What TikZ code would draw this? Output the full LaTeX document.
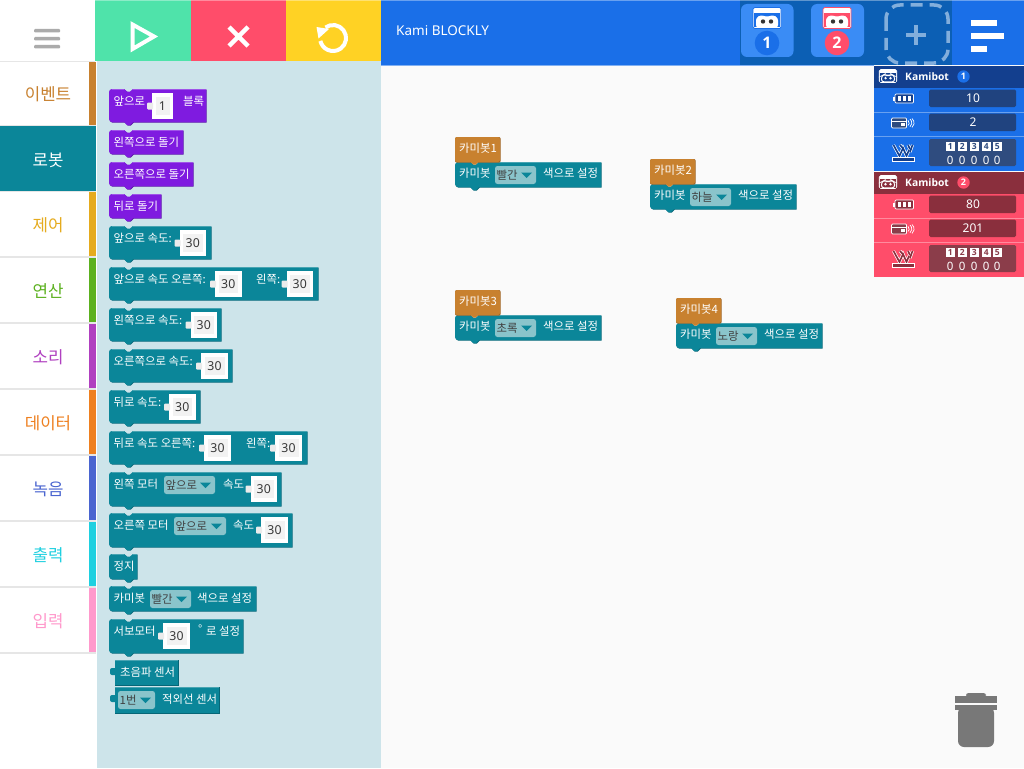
\documentclass[tikz,border=0pt]{standalone}
\usepackage{fontspec}
\setmainfont{Noto Sans CJK KR}
\newfontfamily\latf{Noto Sans}
\newfontfamily\latb{Open Sans}
\usetikzlibrary{calc}
\definecolor{teal1}{HTML}{0B8699}\definecolor{teal1dark}{HTML}{066677}
\definecolor{purp1}{HTML}{7F1BE0}\definecolor{purp1dark}{HTML}{5810A6}
\definecolor{oran1}{HTML}{C8812F}\definecolor{oran1dark}{HTML}{9A6020}
\definecolor{panelbg}{HTML}{CDE4EA}\definecolor{wsbg}{HTML}{FAFAFA}
\definecolor{hblue}{HTML}{1A6FE8}\definecolor{hdeep}{HTML}{0C5FB4}
\definecolor{btnblue}{HTML}{3A8CF5}\definecolor{hred}{HTML}{FF4D6A}
\definecolor{hgreen}{HTML}{4FE3AA}\definecolor{hyellow}{HTML}{FFD224}
\definecolor{dkblue}{HTML}{133F8E}\definecolor{dkred}{HTML}{8A2F3D}
\definecolor{boxblue}{HTML}{20437F}\definecolor{boxblueb}{HTML}{2F4C7F}
\definecolor{boxredb}{HTML}{8B3D4A}\definecolor{ddfill}{HTML}{8AC4CB}
\definecolor{sep}{HTML}{E6E6E6}\definecolor{dashc}{HTML}{82AEDC}
% block with notch and bump: colour, x, y, right, bottom
\newcommand\blk[5]{%
 \foreach \dd/\cc in {0.7/#1dark,0/#1}{%
 \fill[\cc,shift={(\dd,\dd)}] (#2+3,#3)--(#2+15,#3)--(#2+18,#3+2.5)--(#2+21,#3+2.5)--(#2+24,#3)--(#4,#3)--(#4,#5-1)--(#2+24,#5-1)--(#2+21,#5+2)--(#2+18,#5+2)--(#2+15,#5-1)--(#2+3,#5-1) arc (90:180:3) --(#2,#3+3) arc (180:270:3) --cycle;}%
 \draw[#1!75!white,line width=.6pt] (#2+3,#3+.3)--(#2+15,#3+.3) (#2+24,#3+.3)--(#4,#3+.3);
}
% output block: x, y, right, bottom
\newcommand\oblk[4]{%
 \fill[teal1dark] (#1,#2) rectangle (#3+.7,#4+.7);
 \fill[teal1] (#1,#2) rectangle (#3,#4);
 \fill[teal1,rounded corners=2pt] (#1-5,#2+8) rectangle (#1+2,#2+15);
 \draw[teal1!75!white,line width=.6pt] (#1,#2+.3)--(#3,#2+.3);
}
\newcommand\btxt[3]{\node[anchor=west,inner sep=0pt,text=white,font=\fontsize{11.4}{12}\selectfont] at (#1,#2) {#3};}
\newcommand\inp[5]{%
 \fill[white] (#1,#3) rectangle (#2,#4);
 \fill[white!92!black,rounded corners=1pt] (#1-5,{(#3+#4)/2-3.5}) rectangle (#1+1,{(#3+#4)/2+3.5});
 \fill[black!5] (#1+3.5,#3+4) rectangle (#2-3.5,#4-4);
 \node[inner sep=0pt,text=black!78,font=\latf\fontsize{12.3}{13}\selectfont] at ({(#1+#2)/2},{(#3+#4)/2+.5}) {#5};}
\newcommand\dropd[5]{%
 \fill[ddfill,rounded corners=2.5pt] (#1,#3) rectangle (#2,#4);
 \fill[teal1] (#2-15,{(#3+#4)/2-2.5}) -- (#2-4,{(#3+#4)/2-2.5}) -- (#2-9.5,{(#3+#4)/2+3}) -- cycle;
 \node[anchor=west,inner sep=0pt,text=black!75,font=\fontsize{11.4}{12}\selectfont] at (#1+1.5,{(#3+#4)/2}) {#5};}
\newcommand\hatblk[3]{%
 \fill[oran1dark,rounded corners=2pt] (#1,#2) rectangle (#1+45.7,#2+25.7);
 \fill[oran1,rounded corners=2pt] (#1,#2+25)--(#1,#2)--(#1+45,#2)--(#1+45,#2+25)--cycle;
 \fill[oran1] (#1+15,#2+24)--(#1+24,#2+24)--(#1+21,#2+27.5)--(#1+18,#2+27.5)--cycle;
 \btxt{#1+4}{#2+11}{#3}}
\newcommand\setblk[3]{% x,y,dropdown text
 \blk{teal1}{#1}{#2}{#1+146}{#2+26}
 \btxt{#1+4}{#2+11}{카미봇}
 \dropd{#1+40}{#1+81}{#2+4}{#2+22}{#3}
 \btxt{#1+88}{#2+11}{색으로 설정}}
% cx cy scale edge-colour body-colour blob-colour (eyes #7)
\newcommand\robot[7]{%
 \begin{scope}[shift={(#1,#2)},scale=#3]
 \fill[white,draw=#4,line width=.7pt,rounded corners=1.5pt] (-14,-10.5) rectangle (14,10.5);
 \fill[#5] (-13,-4.5) rectangle (13,9.5);
 \fill[#6,draw=white,line width=1pt,rounded corners=2.5pt] (-10.5,9.5)--(-10.5,0)--(-6,-2.5)--(-2,-1)--(2,-1)--(6,-2.5)--(10.5,0)--(10.5,9.5)--cycle;
 \fill[#7] (-4,3.5) circle (2.2);\fill[#7] (4,3.5) circle (2.2);
 \end{scope}}
\newcommand\battery[2]{% y0, fill
 \fill[#2,draw=white,line width=.7pt,rounded corners=1pt] (895,#1) rectangle (913.5,#1+9);
 \fill[white] (892.5,#1+2.5) rectangle (895,#1+6.5);
 \foreach \q in {897.5,902.5,907.5}{\fill[white] (\q,#1+1.8) rectangle (\q+3.8,#1+7.2);}
}
\newcommand\sensor[2]{%
 \fill[#2,draw=white,line width=.7pt,rounded corners=1pt] (891.5,#1) rectangle (906.5,#1+10);
 \fill[white] (891.5,#1+2.5) rectangle (906.5,#1+4);
 \fill[white] (901,#1+5) rectangle (905,#1+8);
 \draw[white,line width=.7pt] (908,#1+2.2) arc (-50:50:3.5);
 \draw[white,line width=.7pt] (910,#1+1) arc (-50:50:5);
 \draw[white,line width=.7pt] (912,#1+.5) arc (-50:50:5.8);
}
\newcommand\wicon[2]{%
 \foreach \wd/\wc in {3/white,1.6/#2}{%
 \draw[\wc,line width=\wd pt] (893.5,#1+2)--(899.5,#1+13)--(903,#1+5)--(906.5,#1+13)--(909,#1+7);
 \draw[\wc,line width=\wd pt] (900,#1+2)--(903.5,#1+6);
 \draw[\wc,line width=\wd pt] (908,#1+2)--(910,#1+6);
 \draw[\wc,line width=\wd pt] (912.5,#1+2)--(910,#1+9);}
 \fill[#2,draw=white,line width=.6pt] (892,#1+14.5) rectangle (914,#1+18);
}
\newcommand\panel[9]{% y0 (header top), dark, body, box, boxb, badge colour, val1, val2, label
 \fill[#3] (874,#1+22) rectangle (1024,#1+104.5);
 \fill[#2] (874,#1) rectangle (1024,#1+21.5);
 \draw[white,opacity=.35,line width=.7pt] (874,#1+46.5)--(1024,#1+46.5) (874,#1+70.5)--(1024,#1+70.5);
 \robot{888}{#1+10}{0.62}{white}{#2}{#2}{white}
 \node[inner sep=0pt,anchor=west,text=white,font=\latb\bfseries\fontsize{10.3}{12}\selectfont] at (905,#1+10.5) {Kamibot};
 \fill[#6] (963.5,#1+10.5) circle (6.2);
 \node[inner sep=0pt,text=white,font=\latb\bfseries\fontsize{9}{10}\selectfont] at (963.5,#1+10.5) {#9};
 \fill[#4,rounded corners=1.5pt] (929,#1+23.5) rectangle (1016,#1+41);
 \fill[#4,rounded corners=1.5pt] (929,#1+47.5) rectangle (1016,#1+65);
 \fill[#5,rounded corners=1.5pt] (929,#1+73) rectangle (1016,#1+100);
 \node[inner sep=0pt,text=white,font=\latf\fontsize{12}{13}\selectfont] at (973,#1+32.5) {#7};
 \node[inner sep=0pt,text=white,font=\latf\fontsize{12}{13}\selectfont] at (973,#1+56.5) {#8};
 \foreach \k [count=\i] in {946,958,970,982,993}{%
  \fill[white] (\k,#1+76) rectangle (\k+8.5,#1+85);
  \node[inner sep=0pt,text=#5,font=\latb\bfseries\fontsize{8.5}{9}\selectfont] at (\k+4.25,#1+80.5) {\i};
  \node[inner sep=0pt,text=white,font=\latf\fontsize{11.5}{12}\selectfont] at (\k+4.25,#1+94) {0};}
 \battery{#1+28}{#2}
 \sensor{#1+52}{#5}
 \wicon{#1+77}{#2}
}
\begin{document}
\begin{tikzpicture}[x=1pt,y=-1pt]
\useasboundingbox (0,0) rectangle (1024,768);
\fill[wsbg] (0,0) rectangle (1024,768);
\fill[white] (0,0) rectangle (97,768);
\fill[panelbg] (97,61) rectangle (381,768);
% header
\fill[hgreen] (95,0) rectangle (190.5,61);
\fill[hred] (190.5,0) rectangle (286,61);
\fill[hyellow] (286,0) rectangle (381,61);
\fill[hblue] (381,0) rectangle (1024,65);
\fill[hdeep] (740,0) rectangle (952,65);
\fill[hblue!55!white] (381,65) rectangle (874,66);
\fill[white,opacity=.35] (0,0) rectangle (1024,1.2);
% sidebar top
\fill[sep] (0,61) rectangle (95,62);
\foreach \yy in {2,4,6}{\fill[black!33,rounded corners=1pt] (34,{21+\yy*4}) rectangle (60,{24.5+\yy*4});}
% sidebar rows
\foreach \ya/\yb/\lab/\colr in {62/125/이벤트/C8812F,192/256/제어/E5AB1E,258/322/연산/5CB11F,324/388/소리/B040C0,390/454/데이터/EE8020,456/520/녹음/4A65D0,522/586/출력/1FD0E0,588/652/입력/FF99CC}{%
 \definecolor{rowc}{HTML}{\colr}
 \fill[rowc] (89,\ya) rectangle (96,\yb);
 \fill[sep] (0,\yb) rectangle (96,\yb+1.5);
 \node[inner sep=0pt,text=rowc,font=\fontsize{16.8}{18}\selectfont] at (48,{(\ya+\yb)/2+1}) {\lab};}
\fill[teal1] (0,126) rectangle (96,190.5);
\fill[sep] (0,190.5) rectangle (96,192);
\node[inner sep=0pt,text=white,font=\fontsize{16.8}{18}\selectfont] at (48,160) {로봇};
% toolbar icons
\draw[white,line width=4pt,line join=miter] (132.5,24.5)--(154,36.5)--(132.5,49)--cycle;
\draw[white,line width=4.5pt] (229,27)--(248,46) (248,27)--(229,46);
\draw[white,line width=4pt] (325.4,27.5) arc (234:527:13);
\fill[white] (316.5,27)--(329,29)--(318.5,38.5)--cycle;
\node[anchor=west,inner sep=0pt,text=white,font=\latf\fontsize{13.5}{15}\selectfont] at (396,30.5) {Kami BLOCKLY};
% top-right buttons
\fill[btnblue,rounded corners=6pt] (741,4) rectangle (793.5,57);
\fill[btnblue,rounded corners=6pt] (811,4) rectangle (864,57);
\robot{767}{18}{1}{hblue}{hblue}{white}{black!80}
\robot{837}{18}{1}{hred}{hred}{white}{black!80}
\fill[hblue] (767,43) circle (12.3);
\fill[hred] (837,43) circle (12.3);
\node[inner sep=0pt,text=white,font=\latb\bfseries\fontsize{16}{18}\selectfont] at (767,43) {1};
\node[inner sep=0pt,text=white,font=\latb\bfseries\fontsize{16}{18}\selectfont] at (837,43) {2};
\draw[dashc,line width=3.5pt,rounded corners=14pt,dash pattern=on 12pt off 7pt] (886,5) rectangle (948,63);
\draw[dashc,line width=3.5pt] (906,35)--(926,35) (916,25)--(916,45);
\fill[white] (971,20) rectangle (997,26.5);
\fill[white] (971,33) rectangle (1004,39.5);
\fill[white] (971,46) rectangle (987,52.5);
% status panels
\panel{66}{dkblue}{hblue}{boxblue}{boxblueb}{hblue}{10}{2}{1}
\panel{172}{dkred}{hred}{dkred}{boxredb}{hred}{80}{201}{2}
% palette blocks
\blk{purp1}{109}{89}{206}{123}
\btxt{113.5}{101}{앞으로}\inp{152}{173}{93}{119}{1}\btxt{183}{101}{블록}
\blk{purp1}{109}{130}{183}{155}\btxt{113.5}{142}{왼쪽으로 돌기}
\blk{purp1}{109}{162}{193}{187}\btxt{113.5}{174}{오른쪽으로 돌기}
\blk{purp1}{109}{194}{161}{219}\btxt{113.5}{206}{뒤로 돌기}
\blk{teal1}{109}{226}{211}{260}\btxt{113.5}{238}{앞으로 속도:}\inp{179.5}{206}{230}{256}{30}
\blk{teal1}{109}{267}{318}{301}\btxt{113.5}{279}{앞으로 속도 오른쪽:}\inp{215}{241.5}{271}{297}{30}\btxt{256}{279}{왼쪽:}\inp{286.5}{313}{271}{297}{30}
\blk{teal1}{109}{308}{221}{342}\btxt{113.5}{320}{왼쪽으로 속도:}\inp{190.5}{217}{312}{338}{30}
\blk{teal1}{109}{349}{232}{383}\btxt{113.5}{361}{오른쪽으로 속도:}\inp{201}{228}{353}{379}{30}
\blk{teal1}{109}{390}{200}{424}\btxt{113.5}{402}{뒤로 속도:}\inp{169}{195.5}{394}{420}{30}
\blk{teal1}{109}{431}{307}{465}\btxt{113.5}{443}{뒤로 속도 오른쪽:}\inp{204}{231}{435}{461}{30}\btxt{246}{443}{왼쪽:}\inp{275}{302}{435}{461}{30}
\blk{teal1}{109}{472}{281}{507}\btxt{113.5}{484}{왼쪽 모터}\dropd{164}{215}{476}{494}{앞으로}\btxt{223}{484}{속도}\inp{250.5}{277}{476}{502}{30}
\blk{teal1}{109}{513}{292}{548}\btxt{113.5}{525}{오른쪽 모터}\dropd{174}{226}{517}{535}{앞으로}\btxt{233}{525}{속도}\inp{261}{288}{517}{543}{30}
\blk{teal1}{109}{554}{137}{580}\btxt{113.5}{566}{정지}
\blk{teal1}{109}{586}{256}{612}\btxt{113.5}{598}{카미봇}\dropd{150}{191}{590}{608}{빨간}\btxt{197}{598}{색으로 설정}
\blk{teal1}{109}{619}{243}{654}\btxt{113.5}{631}{서보모터}\inp{163}{190}{623}{649}{30}\btxt{198}{629}{°}\btxt{206}{631}{로 설정}
\oblk{115}{660}{178}{685}\btxt{120}{672}{초음파 센서}
\oblk{115}{687}{219}{713}\dropd{118}{155}{691}{709}{1번}\btxt{162}{699}{적외선 센서}
% workspace blocks
\setblk{455}{162}{빨간}\hatblk{455}{137}{카미봇1}
\setblk{650}{184}{하늘}\hatblk{650}{159}{카미봇2}
\setblk{455}{315}{초록}\hatblk{455}{290}{카미봇3}
\setblk{676}{323}{노랑}\hatblk{676}{298}{카미봇4}
% trash
\fill[black!53,rounded corners=2.5pt] (966,697)--(966,693)--(986,693)--(986,697)--cycle;
\fill[black!53] (955,696) rectangle (997,702.5);
\fill[black!53] (955,705) rectangle (997,709.5);
\fill[black!53,rounded corners=6pt] (958,707)--(958,747)--(994,747)--(994,707)--cycle;
\end{tikzpicture}
\end{document}
